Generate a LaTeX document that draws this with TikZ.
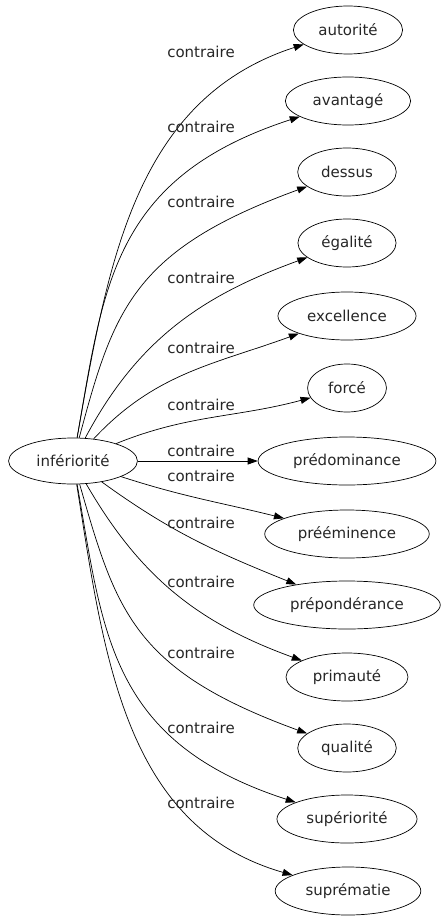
\documentclass[tikz,border=0pt]{standalone}
\usepackage{fontspec}
\setmainfont{DejaVu Sans}
\usetikzlibrary{arrows.meta, shapes.geometric}
\tikzset{
  every picture/.style={line width=0.7pt},
  word/.style={draw, ellipse, inner xsep=9pt, minimum height=48pt, text=black!85, font=\fontsize{15}{17}\selectfont},
  rel/.style={-{Triangle[length=10pt, width=7pt]}, line width=0.7pt},
  tag/.style={text=black!85, font=\fontsize{15}{17}\selectfont},
}
\begin{document}
\begin{tikzpicture}[x=1pt, y=1pt]
  \useasboundingbox (0,0) rectangle (445,-923);
  % source word
  \node[word, minimum height=46pt] (inf) at (73,-461) {infériorité};
  % opposites
  \node[word] (autorite) at (348,-30) {autorité};
  \node[word] (avantage) at (348,-101) {avantagé};
  \node[word] (dessus) at (347,-172) {dessus};
  \node[word] (egalite) at (347,-243) {égalité};
  \node[word] (excellence) at (347,-316) {excellence};
  \node[word] (force) at (347,-388) {forcé};
  \node[word] (predominance) at (347,-461) {prédominance};
  \node[word] (preeminence) at (347,-534) {prééminence};
  \node[word] (preponderance) at (347,-605) {prépondérance};
  \node[word] (primaute) at (347,-677) {primauté};
  \node[word] (qualite) at (347,-748) {qualité};
  \node[word] (superiorite) at (347,-819) {supériorité};
  \node[word] (suprematie) at (348,-891) {suprématie};
  % relations
  \draw[rel] (inf) to[out=80, in=198] (autorite);
  \draw[rel] (inf) to[out=80, in=198, in looseness=1.3] (avantage);
  \draw[rel] (inf) to[out=75, in=200, in looseness=1.4] (dessus);
  \draw[rel] (inf) to[out=62, in=200] (egalite);
  \draw[rel] (inf) to[out=47, in=200] (excellence);
  \draw[rel] (inf) to[out=22, in=195] (force);
  \draw[rel] (inf) -- (predominance);
  \draw[rel] (inf) to[out=-18, in=166] (preeminence);
  \draw[rel] (inf) to[out=-36, in=158] (preponderance);
  \draw[rel] (inf) to[out=-60, in=160] (primaute);
  \draw[rel] (inf) to[out=-74, in=160, in looseness=1.4] (qualite);
  \draw[rel] (inf) to[out=-80, in=162, in looseness=1.3] (superiorite);
  \draw[rel] (inf) to[out=-81, in=164] (suprematie);
  % labels
  \node[tag] (t1) at (201,-52) {contraire};
  \node[tag] (t2) at (201,-127) {contraire};
  \node[tag] (t3) at (201,-202) {contraire};
  \node[tag] (t4) at (201,-278) {contraire};
  \node[tag] (t5) at (201,-348) {contraire};
  \node[tag] (t6) at (201,-405) {contraire};
  \node[tag] (t7) at (201,-451) {contraire};
  \node[tag] (t8) at (201,-476) {contraire};
  \node[tag] (t9) at (201,-523) {contraire};
  \node[tag] (t10) at (201,-582) {contraire};
  \node[tag] (t11) at (201,-653) {contraire};
  \node[tag] (t12) at (201,-728) {contraire};
  \node[tag] (t13) at (201,-803) {contraire};
\end{tikzpicture}
\end{document}
